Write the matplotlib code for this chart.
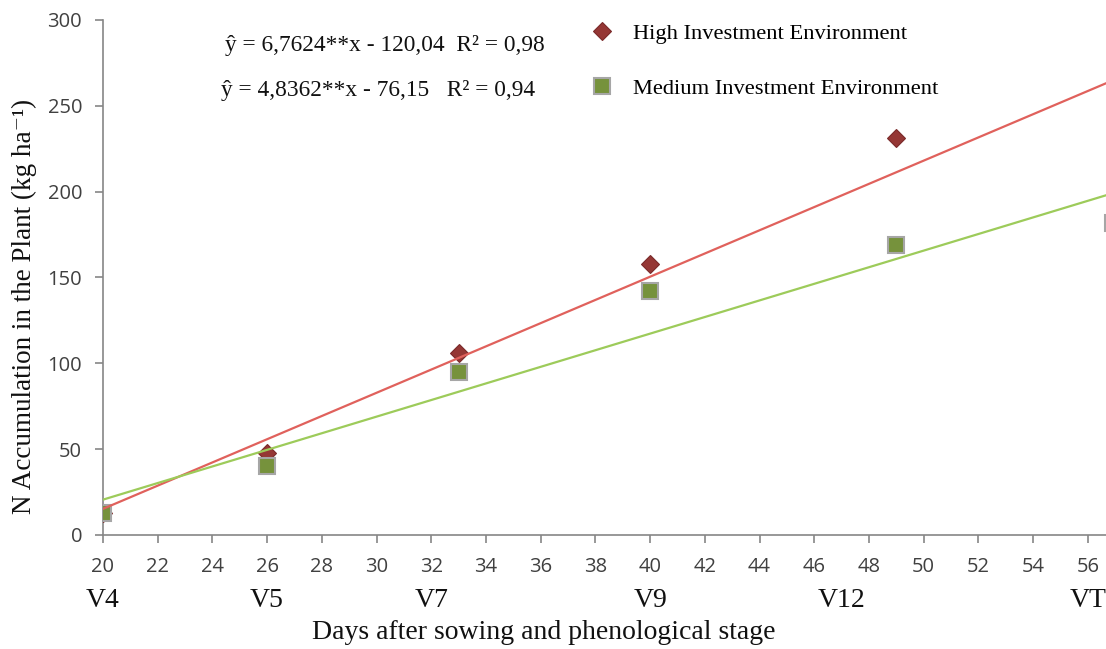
import numpy as np
import matplotlib.pyplot as plt
from matplotlib import transforms

# Days after sowing and measured N accumulation (kg/ha)
days_high = [20, 26, 33, 40, 49]
n_high = [13, 48, 106, 158, 231]
days_medium = [20, 26, 33, 40, 49, 56.9]
n_medium = [13, 40, 95, 142, 169, 182]

# fitted regressions
slope_high, icpt_high = 6.7624, -120.04
slope_medium, icpt_medium = 4.8362, -76.15

stage_days = [20, 26, 32, 40, 47, 56]
stage_names = ['V4', 'V5', 'V7', 'V9', 'V12', 'VT']

serif = ['Liberation Serif', 'DejaVu Serif']

fig = plt.figure(figsize=(11.06, 6.49), dpi=100)
ax = fig.add_axes([0.0931, 0.1757, 0.940, 0.7935])

xs = np.array([20, 58])
ax.plot(xs, slope_high * xs + icpt_high, color='#E0615C', lw=1.6, zorder=4)
ax.plot(xs, slope_medium * xs + icpt_medium, color='#9DCB5A', lw=1.6, zorder=4)

ax.plot(days_high, n_high, ls='none', marker='D', ms=9, mfc='#953735',
        mec='#7A2A2A', mew=0.8, zorder=3, label='High Investment Environment')
ax.plot(days_medium, n_medium, ls='none', marker='s', ms=11.5, mfc='#76923C',
        mec='#A6A6A6', mew=1.5, zorder=3, label='Medium Investment Environment')

ax.set_xlim(20, 58)
ax.set_ylim(0, 300)
ax.set_xticks(np.arange(20, 57, 2))
ax.set_yticks(np.arange(0, 301, 50))

for s in ['top', 'right']:
    ax.spines[s].set_visible(False)
for s in ['left', 'bottom']:
    ax.spines[s].set_color('#868686')
    ax.spines[s].set_linewidth(1.2)
ax.tick_params(direction='out', length=6, width=1.2, color='#868686',
               labelcolor='#404040', labelsize=14.5)
ax.tick_params(axis='x', pad=10)
ax.tick_params(axis='y', pad=9)
for lb in ax.get_xticklabels() + ax.get_yticklabels():
    lb.set_fontfamily('Open Sans')

# phenological stages under the day ticks
trans = transforms.blended_transform_factory(ax.transData, fig.transFigure)
for d, name in zip(stage_days, stage_names):
    ax.text(d, 0.075, name, transform=trans, ha='center', va='center',
            fontsize=20, family=serif, color='#111111')

fig.text(0.492, 0.025, 'Days after sowing and phenological stage', ha='center',
         va='center', fontsize=20, family=serif, color='#111111')
fig.text(0.022, 0.528, 'N Accumulation in the Plant (kg ha⁻¹)', rotation=90,
         ha='center', va='center', fontsize=19.5, family=serif,
         color='#111111')

fig.text(0.203, 0.930, 'ŷ = 6,7624**x - 120,04  R² = 0,98', ha='left', va='center',
         fontsize=16.8, family=serif, color='#111111')
fig.text(0.200, 0.861, 'ŷ = 4,8362**x - 76,15   R² = 0,94', ha='left', va='center',
         fontsize=16.8, family=serif, color='#111111')

leg = ax.legend(loc='upper left', bbox_to_anchor=(0.516, 0.995),
                bbox_transform=fig.transFigure, frameon=False,
                handlelength=1.0, handletextpad=0.85, labelspacing=1.5,
                prop={'family': serif, 'size': 16.2})

fig.savefig('out.png', dpi=100)
